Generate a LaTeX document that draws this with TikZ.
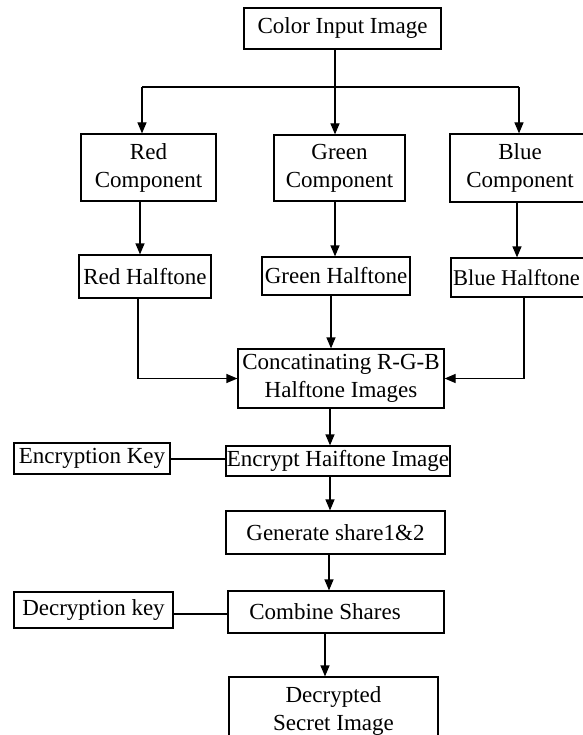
\documentclass[tikz,border=0pt]{standalone}
\usepackage{fontspec}
\setmainfont{Liberation Serif}
\usetikzlibrary{arrows.meta}
\begin{document}
\begin{tikzpicture}[x=1pt,y=-1pt,
  box/.style={draw=black, line width=1.2pt, inner sep=0pt, align=center,
    font=\fontsize{23}{28}\selectfont},
  link/.style={draw=black, line width=1.2pt},
  arr/.style={link, -{Triangle[length=11pt,width=9pt]}}]
\useasboundingbox (0,0) rectangle (582,735);
% nodes
\node[box, minimum width=197pt, minimum height=41pt] (cin) at (342.5,28.5) {Color Input Image};
\node[box, minimum width=135pt, minimum height=67pt] (rc) at (148.5,167.5) {Red\\Component};
\node[box, minimum width=131pt, minimum height=66pt] (gc) at (339.5,168) {Green\\Component};
\node[box, minimum width=140pt, minimum height=68pt] (bc) at (520,168) {Blue\\Component};
\node[box, minimum width=132pt, minimum height=43pt] (rh) at (145,276.5) {Red Halftone};
\node[box, minimum width=148pt, minimum height=38pt] (gh) at (336,276) {Green Halftone};
\node[box, minimum width=149pt, minimum height=39pt, font=\fontsize{22.5}{28}\selectfont] (bh) at (525.5,277.5) {Blue Halftone\hspace*{18pt}};
\node[box, minimum width=206pt, minimum height=59pt] (cat) at (341,378.5) {Concatinating R-G-B\\Halftone Images};
\node[box, minimum width=224pt, minimum height=30pt] (enc) at (338,461) {Encrypt Haiftone Image};
\node[box, minimum width=156pt, minimum height=31pt] (ek) at (92,458.5) {Encryption Key};
\node[box, minimum width=219pt, minimum height=43pt] (gen) at (335.5,532.5) {Generate share1\&2};
\node[box, minimum width=216pt, minimum height=42pt] (cmb) at (336,612) {Combine Shares\hspace*{22pt}};
\node[box, minimum width=159pt, minimum height=36pt] (dk) at (93.5,610) {Decryption key};
\node[box, minimum width=209pt, minimum height=68pt] (dec) at (333.5,711) {Decrypted\\Secret Image};
% connector coordinates
\coordinate (jr) at (142,87);
\coordinate (jg) at (335,87);
\coordinate (jb) at (519,87);
\coordinate (xr) at (140,0);
\coordinate (xg) at (335,0);
\coordinate (xb) at (517,0);
\coordinate (xr2) at (138,0);
\coordinate (xg2) at (331,0);
\coordinate (xb2) at (524,0);
\coordinate (xc) at (330,0);
\coordinate (xd) at (329,0);
\coordinate (xe) at (325,0);
\coordinate (ye) at (0,459);
\coordinate (yd) at (0,614);
% connectors
\draw[link] (cin.south -| jg) -- (jg);
\draw[link] (jr) -- (jb);
\draw[arr] (jr) -- (jr |- rc.north);
\draw[arr] (jg) -- (jg |- gc.north);
\draw[arr] (jb) -- (jb |- bc.north);
\draw[arr] (rc.south -| xr) -- (rh.north -| xr);
\draw[arr] (gc.south -| xg) -- (gh.north -| xg);
\draw[arr] (bc.south -| xb) -- (bh.north -| xb);
\draw[arr] (rh.south -| xr2) |- (cat.west);
\draw[arr] (gh.south -| xg2) -- (cat.north -| xg2);
\draw[arr] (bh.south -| xb2) |- (cat.east);
\draw[arr] (cat.south -| xc) -- (enc.north -| xc);
\draw[link] (ek.east |- ye) -- (enc.west |- ye);
\draw[arr] (enc.south -| xc) -- (gen.north -| xc);
\draw[arr] (gen.south -| xd) -- (cmb.north -| xd);
\draw[link] (dk.east |- yd) -- (cmb.west |- yd);
\draw[arr] (cmb.south -| xe) -- (dec.north -| xe);
\end{tikzpicture}
\end{document}
